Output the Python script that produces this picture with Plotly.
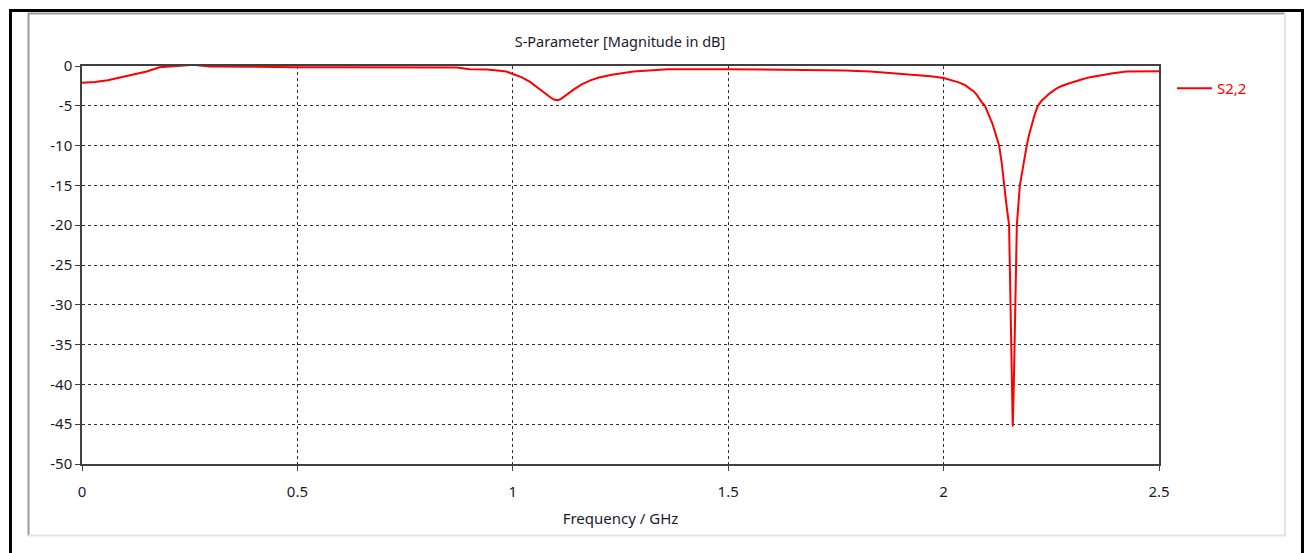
import plotly.graph_objects as go

freq_ghz = [0.0, 0.03, 0.06, 0.1, 0.15, 0.18, 0.22, 0.258, 0.297, 0.35, 0.41, 0.5, 0.6, 0.7, 0.8, 0.87,
            0.9, 0.94, 0.97, 0.985, 1.0, 1.02, 1.04, 1.06, 1.07, 1.08, 1.09, 1.097, 1.105, 1.113,
            1.12, 1.13, 1.14, 1.16, 1.18, 1.2, 1.23, 1.28, 1.36,
            1.5, 1.64, 1.77, 1.83, 1.876, 1.94, 1.97, 2.0, 2.022, 2.035, 2.05, 2.06, 2.07, 2.078,
            2.085, 2.09, 2.096, 2.104, 2.113, 2.12, 2.129, 2.135,
            2.14, 2.146, 2.152, 2.156, 2.158, 2.1605, 2.163, 2.166, 2.168, 2.17, 2.177, 2.185,
            2.193, 2.199, 2.205, 2.212, 2.219, 2.227, 2.235, 2.247, 2.26, 2.27, 2.285, 2.3, 2.32,
            2.34, 2.36, 2.393, 2.425, 2.46, 2.5]
s22_db = [-2.1, -2.0, -1.8, -1.3, -0.7, -0.15, 0.0, 0.15, -0.05, -0.1, -0.15, -0.15, -0.15, -0.15, -0.15, -0.2,
          -0.4, -0.45, -0.6, -0.7, -1.0, -1.4, -2.0, -2.8, -3.2, -3.7, -4.05, -4.25, -4.3, -4.1,
          -3.8, -3.4, -3.0, -2.3, -1.8, -1.45, -1.1, -0.7, -0.4,
          -0.4, -0.5, -0.55, -0.7, -0.9, -1.1, -1.3, -1.5, -1.8, -2.05, -2.4, -2.75, -3.2, -3.7,
          -4.3, -4.65, -5.0, -6.0, -7.2, -8.4, -10.0, -12.2,
          -15.0, -17.5, -20.0, -30.0, -38.0, -45.3, -40.0, -30.0, -25.0, -20.0, -15.0, -12.3,
          -10.0, -8.5, -7.3, -6.0, -5.0, -4.4, -4.0, -3.4, -2.9, -2.6, -2.3, -2.0, -1.7,
          -1.4, -1.2, -0.9, -0.7, -0.65, -0.65]

x_ticks = [0, 0.5, 1, 1.5, 2, 2.5]
x_tick_text = ["0", "0.5", "1", "1.5", "2", "2.5"]
y_ticks = [0, -5, -10, -15, -20, -25, -30, -35, -40, -45, -50]
y_tick_text = ["0", "-5", "-10", "-15", "-20", "-25", "-30", "-35", "-40", "-45", "-50"]

W, H = 1311, 553
L, R, T, B = 82, 1159, 66, 464
FONT = "Noto Sans"


def px(x):
    return (x - L) / (R - L)


def py(y):
    return (B - y) / (B - T)


fig = go.Figure()
fig.add_trace(go.Scatter(x=freq_ghz, y=s22_db, mode="lines", name="S2,2",
                         line=dict(color="#ff0000", width=2)))

axis_common = dict(
    showline=True, linecolor="#404040", linewidth=1.5, mirror=True,
    showgrid=True, gridcolor="#303030", gridwidth=1, griddash="3px,3px",
    zeroline=False, ticks="outside", ticklen=5, tickcolor="#404040",
    tickfont=dict(family=FONT, size=15, color="#1a1a2e"),
)

fig.update_xaxes(range=[0, 2.5], tickvals=x_ticks, ticktext=x_tick_text,
                 title=dict(text="Frequency / GHz", font=dict(family=FONT, size=15, color="#1a1a2e"),
                            standoff=14),
                 ticklabelstandoff=8, **axis_common)
fig.update_yaxes(range=[-50, 0], tickvals=y_ticks, ticktext=y_tick_text, **axis_common)

shapes = [
    # outer black frame
    dict(type="line", xref="paper", yref="paper", x0=px(10.5), x1=px(10.5), y0=py(9), y1=py(560),
         line=dict(color="black", width=3)),
    dict(type="line", xref="paper", yref="paper", x0=px(9), x1=px(1303.5), y0=py(10.5), y1=py(10.5),
         line=dict(color="black", width=3)),
    dict(type="line", xref="paper", yref="paper", x0=px(1302.5), x1=px(1302.5), y0=py(9), y1=py(560),
         line=dict(color="black", width=3)),
    # inner sunken panel
    dict(type="line", xref="paper", yref="paper", x0=px(28.5), x1=px(28.5), y0=py(13), y1=py(536),
         line=dict(color="#9a9a9a", width=2)),
    dict(type="line", xref="paper", yref="paper", x0=px(28), x1=px(1285), y0=py(13.5), y1=py(13.5),
         line=dict(color="#9a9a9a", width=2)),
    dict(type="line", xref="paper", yref="paper", x0=px(1285), x1=px(1285), y0=py(13), y1=py(536),
         line=dict(color="#e4e4e4", width=2)),
    dict(type="line", xref="paper", yref="paper", x0=px(28), x1=px(1286), y0=py(535.5), y1=py(535.5),
         line=dict(color="#e4e4e4", width=2)),
]

fig.update_layout(
    width=W, height=H,
    margin=dict(l=L, r=W - R, t=T, b=H - B),
    paper_bgcolor="white", plot_bgcolor="white",
    title=dict(text="S-Parameter [Magnitude in dB]", x=px(620), xref="paper", xanchor="center",
               y=1 - 42 / H, yref="container", yanchor="middle",
               font=dict(family=FONT, size=14.5, color="#1a1a2e")),
    showlegend=True,
    legend=dict(x=px(1172), y=py(72), xanchor="left", yanchor="top",
                font=dict(family=FONT, size=15, color="#ff0000"),
                bgcolor="rgba(0,0,0,0)", itemwidth=35),
    shapes=shapes,
)

fig.write_html("out.html")
